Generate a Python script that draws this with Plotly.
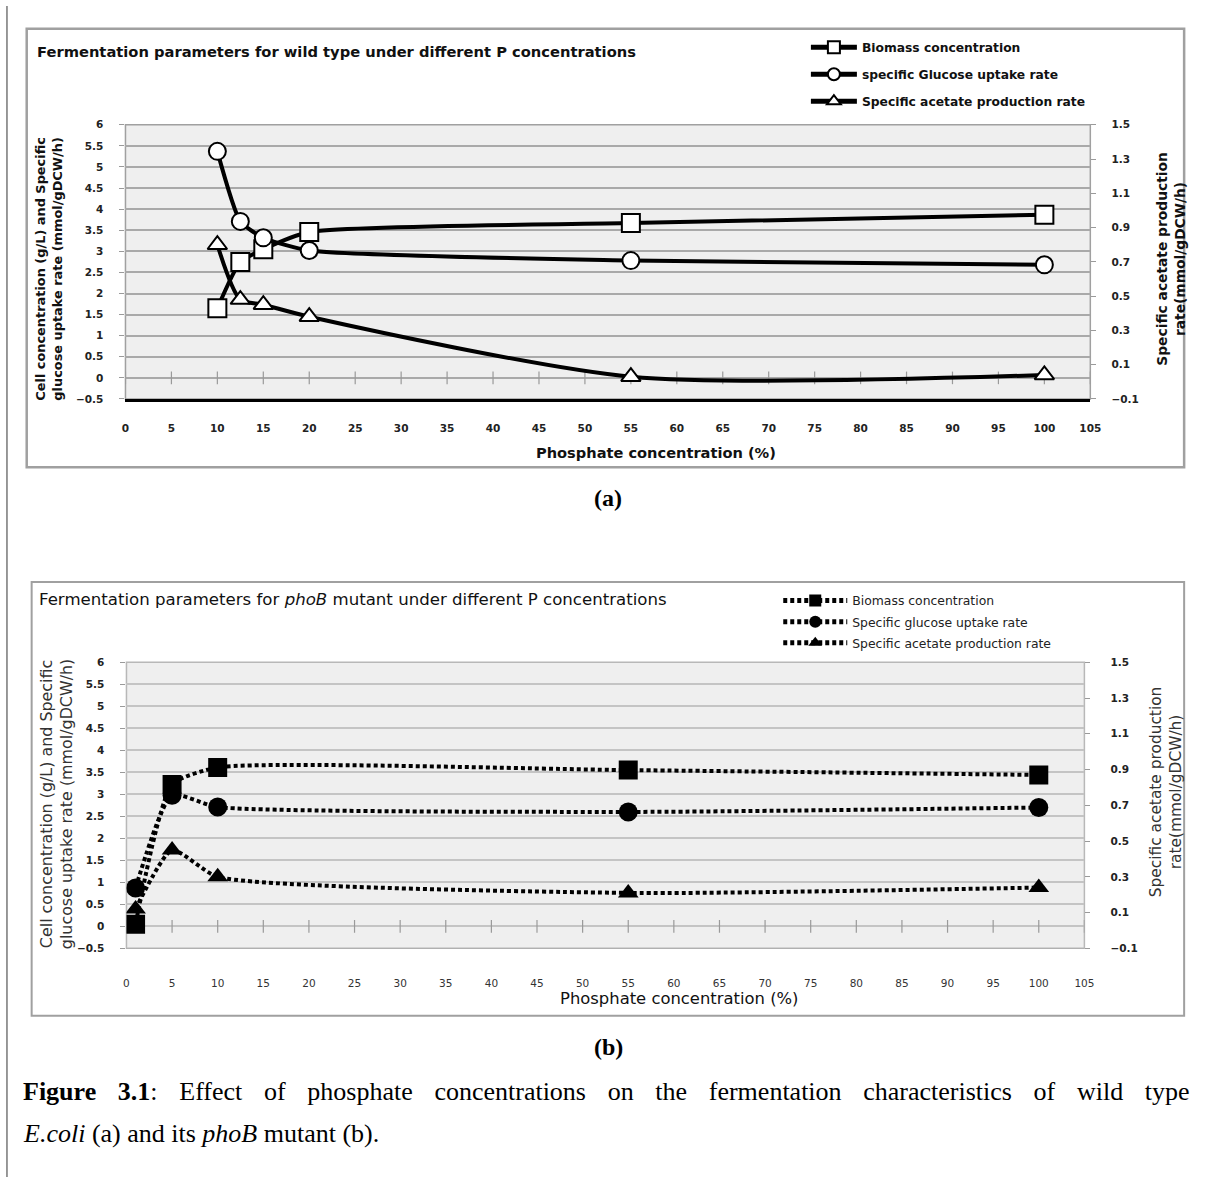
import plotly.graph_objects as go

W, H = 1206, 1183

# ---- Panel (a): wild type ----
wt_phosphate = [10, 12.5, 15, 20, 55, 100]
wt_biomass = [1.65, 2.75, 3.05, 3.46, 3.67, 3.87]
wt_glucose = [5.37, 3.71, 3.32, 3.02, 2.78, 2.68]
wt_acetate = [0.80, 0.48, 0.45, 0.38, 0.03, 0.04]

# ---- Panel (b): phoB mutant ----
mut_phosphate = [1, 5, 10, 55, 100]
mut_biomass = [0.05, 3.22, 3.61, 3.55, 3.44]
mut_glucose = [0.87, 2.98, 2.71, 2.60, 2.70]
mut_acetate = [0.12, 0.45, 0.30, 0.21, 0.24]

series_names_a = ["Biomass concentration", "specific Glucose uptake rate",
                  "Specific acetate production rate"]
series_names_b = ["Biomass concentration", "Specific glucose uptake rate",
                  "Specific acetate production rate"]

x_ticks = list(range(0, 106, 5))


def px(x):
    return x / W


def py(y):
    return 1 - y / H


FONT = "DejaVu Sans"
SERIF = "Liberation Serif"
fig = go.Figure()

# crossing tick marks on the zero line of each panel
for xa, ya in (("x", "y"), ("x2", "y3")):
    fig.add_trace(go.Scatter(
        x=x_ticks, y=[0] * len(x_ticks), mode="markers", xaxis=xa, yaxis=ya,
        marker=dict(symbol="line-ns", size=9, line=dict(color="#9a9a9a", width=1.2)),
        showlegend=False, hoverinfo="skip"))

# panel (a) series: solid smoothed lines with open markers
open_marker = dict(color="white", line=dict(color="black", width=2))


def solid(smooth):
    return dict(color="black", width=4, shape="spline", smoothing=smooth)


fig.add_trace(go.Scatter(
    x=wt_phosphate, y=wt_biomass, name=series_names_a[0], mode="lines+markers",
    line=solid(0.55), marker=dict(symbol="square", size=18, **open_marker),
    xaxis="x", yaxis="y", legend="legend", legendgroup="a1"))
fig.add_trace(go.Scatter(
    x=wt_phosphate, y=wt_glucose, name=series_names_a[1], mode="lines+markers",
    line=solid(0.55), marker=dict(symbol="circle", size=17, **open_marker),
    xaxis="x", yaxis="y", legend="legend", legendgroup="a2"))
fig.add_trace(go.Scatter(
    x=wt_phosphate, y=wt_acetate, name=series_names_a[2], mode="lines+markers",
    line=solid(0.75), marker=dict(symbol="triangle-up", size=17, **open_marker),
    xaxis="x", yaxis="y2", legend="legend", legendgroup="a3"))

# panel (b) series: dotted smoothed lines with filled markers
dot_line = dict(color="black", width=4, dash="4px,3px", shape="spline", smoothing=0.55)
fig.add_trace(go.Scatter(
    x=mut_phosphate, y=mut_biomass, name=series_names_b[0], mode="lines+markers",
    line=dot_line, marker=dict(symbol="square", size=19, color="black"),
    xaxis="x2", yaxis="y3", legend="legend2", legendgroup="b1"))
fig.add_trace(go.Scatter(
    x=mut_phosphate, y=mut_glucose, name=series_names_b[1], mode="lines+markers",
    line=dot_line, marker=dict(symbol="circle", size=19, color="black"),
    xaxis="x2", yaxis="y3", legend="legend2", legendgroup="b2"))
fig.add_trace(go.Scatter(
    x=mut_phosphate, y=mut_acetate, name=series_names_b[2], mode="lines+markers",
    line=dot_line, marker=dict(symbol="triangle-up", size=18, color="black"),
    xaxis="x2", yaxis="y4", legend="legend2", legendgroup="b3"))

tick_bold = dict(family=FONT, size=10.5, color="#222", weight="bold")
tick_reg = dict(family=FONT, size=10.5, color="#333")

x_common = dict(range=[0, 105], tick0=0, dtick=5, showgrid=False, zeroline=False,
                ticks="", fixedrange=True)
yl_common = dict(range=[-0.5, 6], tick0=-0.5, dtick=0.5, zeroline=False,
                 ticks="outside", ticklen=5, tickcolor="#9a9a9a", showline=False)
yr_common = dict(range=[-0.1, 1.5], tick0=-0.1, dtick=0.2, showgrid=False,
                 zeroline=False, ticks="outside", ticklen=5, tickcolor="#9a9a9a",
                 side="right")

fig.update_layout(
    width=W, height=H, margin=dict(l=0, r=0, t=0, b=0),
    paper_bgcolor="white", plot_bgcolor="#efefef",
    xaxis=dict(domain=[px(123), px(1100)], anchor="y", showline=True,
               linecolor="black", linewidth=3, tickfont=tick_bold,
               ticklabelstandoff=17, **x_common),
    yaxis=dict(domain=[py(397), py(120)], anchor="x", gridcolor="#a9a9a9",
               gridwidth=2, tickfont=tick_bold, ticklabelstandoff=14, **yl_common),
    yaxis2=dict(overlaying="y", anchor="x", tickfont=tick_bold,
                ticklabelstandoff=13, **yr_common),
    xaxis2=dict(domain=[px(124), px(1094)], anchor="y3", showline=True,
                linecolor="#b0b0b0", linewidth=1, tickfont=tick_reg,
                ticklabelstandoff=25, **x_common),
    yaxis3=dict(domain=[py(952), py(663)], anchor="x2", gridcolor="#c4c4c4",
                gridwidth=1.5, tickfont=tick_bold, ticklabelstandoff=14, **yl_common),
    yaxis4=dict(overlaying="y3", anchor="x2", tickfont=tick_bold,
                ticklabelstandoff=18, **yr_common),
    legend=dict(x=px(812), y=py(27), xanchor="left", yanchor="top",
                bgcolor="rgba(0,0,0,0)", traceorder="grouped", tracegroupgap=8,
                itemwidth=46, itemsizing="constant",
                font=dict(family=FONT, size=12.3, color="#111", weight="bold")),
    legend2=dict(x=px(784), y=py(586), xanchor="left", yanchor="top",
                 bgcolor="rgba(0,0,0,0)", traceorder="grouped", tracegroupgap=2,
                 itemwidth=64, itemsizing="constant",
                 font=dict(family=FONT, size=12.4, color="#222")),
)

shapes = [
    # panel frames
    dict(type="rect", xref="paper", yref="paper", x0=px(23), x1=px(1195),
         y0=py(466), y1=py(23), line=dict(color="#a0a0a0", width=2.5)),
    dict(type="rect", xref="paper", yref="paper", x0=px(28), x1=px(1195),
         y0=py(1020), y1=py(582), line=dict(color="#a0a0a0", width=2)),
    # page edge
    dict(type="line", xref="paper", yref="paper", x0=px(3), x1=px(3),
         y0=0, y1=1, line=dict(color="#777", width=1.5)),
    # plot area borders
    dict(type="rect", xref="x domain", yref="y domain", x0=0, x1=1, y0=0, y1=1,
         line=dict(color="#a0a0a0", width=1.5), layer="below"),
    dict(type="rect", xref="x2 domain", yref="y3 domain", x0=0, x1=1, y0=0, y1=1,
         line=dict(color="#b8b8b8", width=1.5), layer="below"),
]
fig.update_layout(shapes=shapes)


def text(x, y, s, size, weight="normal", family=FONT, angle=0, xanchor="center",
         color="#111"):
    fig.add_annotation(x=px(x), y=py(y), xref="paper", yref="paper", text=s,
                       showarrow=False, textangle=angle, xanchor=xanchor,
                       yanchor="middle", align="center", borderpad=0,
                       font=dict(family=family, size=size, color=color,
                                 weight=weight))


# panel titles
text(32, 46, "Fermentation parameters for wild type under different P concentrations",
     14.7, "bold", xanchor="left")
text(34, 600, "Fermentation parameters for <i>phoB</i> mutant under different P concentrations",
     16.6, xanchor="left")

# axis titles, panel (a)
text(46, 265, "Cell concentration (g/L) and Specific<br>glucose uptake rate (mmol/gDCW/h)",
     12.9, "bold", angle=-90)
text(1182, 256, "Specific acetate production<br>rate(mmol/gDCW/h)", 13.8, "bold", angle=-90)
text(660, 451, "Phosphate concentration (%)", 14.6, "bold")

# axis titles, panel (b)
text(53, 806, "Cell concentration (g/L) and Specific<br>glucose uptake rate (mmol/gDCW/h)",
     15.9, angle=-90, color="#333")
text(1177, 794, "Specific acetate production<br>rate(mmol/gDCW/h)", 15.4, angle=-90,
     color="#333")
text(684, 1003, "Phosphate concentration (%)", 16.4)

# panel labels and caption
text(612, 497, "<b>(a)</b>", 24, family=SERIF, color="black")
text(612, 1052, "<b>(b)</b>", 24, family=SERIF, color="black")
sp = "&nbsp;&nbsp;&#8202; "
caption1 = sp.join(["<b>Figure</b>", "<b>3.1</b>:", "Effect", "of", "phosphate",
                    "concentrations", "on", "the", "fermentation", "characteristics",
                    "of", "wild", "type"])
text(18, 1097, caption1, 26, family=SERIF, xanchor="left", color="black")
text(18, 1139, "<i>E.coli</i> (a) and its <i>phoB</i> mutant (b).", 26,
     family=SERIF, xanchor="left", color="black")

fig.write_html("out.html")
